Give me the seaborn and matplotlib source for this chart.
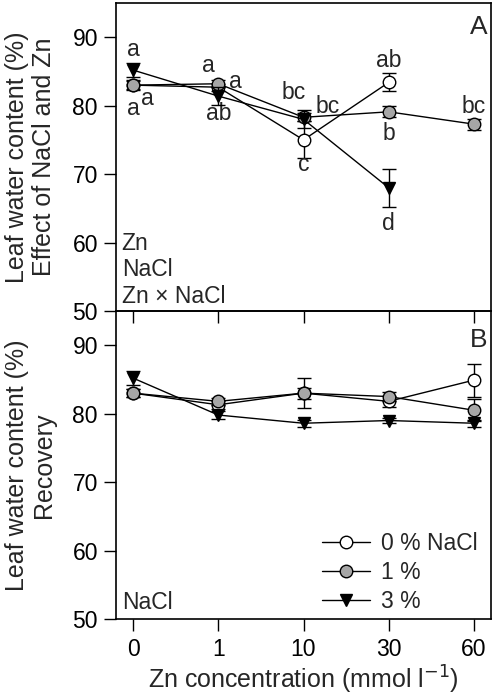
import numpy as np
import pandas as pd
import matplotlib
matplotlib.use("Agg")
import matplotlib.pyplot as plt
import seaborn as sns

sns.set_style("ticks")
plt.rcParams["font.family"] = ["Liberation Sans", "DejaVu Sans"]

zn_levels = ["0", "1", "10", "30", "60"]
series = ["0 % NaCl", "1 %", "3 %"]

# Panel A: effect of NaCl and Zn
a_open = [83.0, 82.7, 75.0, 83.4, np.nan]
a_open_err = [0.6, 0.5, 2.7, 1.3, np.nan]
a_gray = [83.0, 83.2, 78.3, 79.1, 77.3]
a_gray_err = [0.7, 0.5, 0.6, 0.8, 0.8]
a_tri = [85.2, 81.4, 78.0, 68.0, np.nan]
a_tri_err = [1.0, 1.3, 1.3, 2.8, np.nan]

# Panel B: recovery
b_open = [83.0, 81.3, 83.0, 81.8, 84.9]
b_open_err = [0.6, 0.6, 2.2, 0.8, 2.4]
b_gray = [83.0, 81.8, 83.0, 82.5, 80.5]
b_gray_err = [0.6, 0.5, 0.8, 0.6, 1.6]
b_tri = [85.2, 79.8, 78.6, 79.0, 78.6]
b_tri_err = [1.0, 0.6, 0.5, 0.4, 0.5]

# significance letters (series index, zn index, letter, dx, dy)
letters_a = [
    (2, 0, "a", 0.0, 3.0), (1, 0, "a", 0.0, -3.4), (0, 0, "a", 0.17, -2.0),
    (1, 1, "a", -0.12, 2.6), (0, 1, "a", 0.2, 0.9), (2, 1, "ab", 0.0, -2.6),
    (1, 2, "bc", -0.12, 3.6), (2, 2, "bc", 0.28, 1.9), (0, 2, "c", 0.0, -3.6),
    (0, 3, "ab", 0.0, 3.2), (1, 3, "b", 0.0, -3.2), (2, 3, "d", 0.0, -5.2),
    (1, 4, "bc", 0.0, 2.6),
]

styles = [
    dict(marker="o", markerfacecolor="white"),
    dict(marker="o", markerfacecolor="#a6a6a6"),
    dict(marker="v", markerfacecolor="black"),
]

fig = plt.figure(figsize=(4.96, 7.0), dpi=100)
L, R = 116 / 496, 491 / 496
axA = fig.add_axes([L, 1 - 311 / 700, R - L, 308 / 700])
axB = fig.add_axes([L, 1 - 619 / 700, R - L, 308 / 700])
axA.set_zorder(3)
axA.patch.set_alpha(0)

FS = 16.5
LFS = 18


def draw(ax, vals, errs):
    for i, (v, e) in enumerate(zip(vals, errs)):
        df = pd.DataFrame({"pos": np.arange(len(zn_levels)), "val": v}).dropna()
        ax.errorbar(np.arange(len(zn_levels)), v, yerr=e, fmt="none",
                    ecolor="black", elinewidth=1, capsize=5, capthick=1, zorder=2 + i)
        sns.lineplot(data=df, x="pos", y="val", ax=ax, color="black", lw=1,
                     markersize=9, markeredgecolor="black", markeredgewidth=1,
                     label=series[i], zorder=2.5 + i, **styles[i])


draw(axA, [a_open, a_gray, a_tri], [a_open_err, a_gray_err, a_tri_err])
draw(axB, [b_open, b_gray, b_tri], [b_open_err, b_gray_err, b_tri_err])

valsA = [a_open, a_gray, a_tri]
for s, z, t, dx, dy in letters_a:
    axA.text(z + dx, valsA[s][z] + dy, t, ha="center", va="center", fontsize=FS)

for ax in (axA, axB):
    ax.set_xlim(-0.2, 4.2)
    ax.set_ylim(50, 95)
    ax.set_yticks([50, 60, 70, 80, 90])
    ax.set_xticks(range(len(zn_levels)))
    ax.tick_params(direction="out", length=8.5, width=1, labelsize=FS,
                   colors="black")
    ax.tick_params(axis="y", pad=4.5)
    ax.tick_params(axis="x", pad=5.5)
    for sp in ax.spines.values():
        sp.set_visible(True)
        sp.set_linewidth(1.2)
        sp.set_color("black")
    ax.set_xlabel("")

axA.set_xticklabels([])
axB.set_xticklabels(zn_levels)
axA.get_legend().remove()

axA.set_ylabel("Leaf water content (%)\nEffect of NaCl and Zn", fontsize=LFS,
               labelpad=12, linespacing=1.15)
axB.set_ylabel("Leaf water content (%)\nRecovery", fontsize=LFS,
               labelpad=12, linespacing=1.15)
axB.set_xlabel("Zn concentration (mmol l$^{-1}$)", fontsize=LFS, labelpad=2)

axA.text(0.99, 0.96, "A", transform=axA.transAxes, ha="right", va="top", fontsize=LFS + 1)
axB.text(0.99, 0.945, "B", transform=axB.transAxes, ha="right", va="top", fontsize=LFS + 1)
axA.text(0.015, 0.01, "Zn\nNaCl\nZn × NaCl", transform=axA.transAxes, ha="left",
         va="bottom", fontsize=FS, linespacing=1.2)
axB.text(0.015, 0.015, "NaCl", transform=axB.transAxes, ha="left", va="bottom", fontsize=FS)

leg = axB.legend(loc="lower right", bbox_to_anchor=(0.99, -0.01), frameon=False,
                 fontsize=FS, handlelength=2.1, handletextpad=0.5,
                 labelspacing=0.25, borderaxespad=0.0)

fig.savefig("out.png", dpi=100)
